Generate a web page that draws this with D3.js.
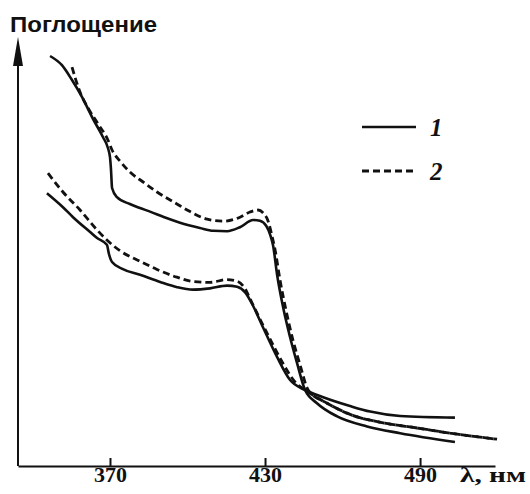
<!DOCTYPE html>
<html>
<head>
<meta charset="utf-8">
<script src="https://cdn.jsdelivr.net/npm/d3@7"></script>
<style>
  body { margin: 0; background: #fff; }
  svg { display: block; }
</style>
</head>
<body>
<svg id="chart" width="530" height="494"></svg>
<script>
'use strict';

// wavelength ticks on the bottom axis
const xTicks = [370, 430, 490];

// curve 1 (solid), upper spectrum: [wavelength nm, absorbance]
const solidUpper = [
  [346.8, 1.025], [351.4, 1.002], [355.0, 0.968], [359.2, 0.922], [363.4, 0.868],
  [367.3, 0.822], [369.2, 0.795], [370.0, 0.772], [370.4, 0.740], [370.8, 0.695],
  [372.7, 0.672], [377.7, 0.655], [381.6, 0.645], [385.5, 0.636], [391.0, 0.622],
  [397.1, 0.608], [404.8, 0.595], [410.0, 0.588], [415.3, 0.587], [420.3, 0.597],
  [425.4, 0.615], [428.0, 0.613], [430.5, 0.600], [432.0, 0.578], [433.1, 0.552],
  [434.7, 0.477], [437.0, 0.397], [439.7, 0.322], [442.4, 0.257], [445.5, 0.190],
  [450.1, 0.157], [457.9, 0.124], [469.5, 0.099], [482.3, 0.082], [503.5, 0.060]
];
// curve 2 (dashed), upper spectrum
const dashUpper = [
  [355.3, 0.997], [358.4, 0.935], [361.5, 0.895], [365.4, 0.855], [369.2, 0.815],
  [370.8, 0.790], [373.9, 0.762], [377.7, 0.735], [382.8, 0.710], [388.2, 0.685],
  [395.9, 0.655], [401.0, 0.636], [407.6, 0.617], [413.7, 0.612], [420.3, 0.622],
  [424.2, 0.635], [427.3, 0.640], [429.2, 0.633], [431.2, 0.612], [432.6, 0.578],
  [433.9, 0.540], [435.8, 0.465], [438.1, 0.390], [440.8, 0.315], [443.6, 0.252],
  [446.7, 0.190], [454.0, 0.157], [462.9, 0.129], [475.7, 0.108], [488.9, 0.095],
  [501.6, 0.082], [519.8, 0.067]
];
// curve 1 (solid), lower spectrum
const solidLower = [
  [345.6, 0.682], [351.8, 0.647], [355.7, 0.622], [362.3, 0.585], [365.0, 0.570],
  [368.8, 0.553], [369.6, 0.530], [370.8, 0.510], [375.0, 0.492], [381.6, 0.478],
  [389.4, 0.460], [396.0, 0.447], [402.1, 0.441], [408.7, 0.444], [415.3, 0.451],
  [419.2, 0.448], [422.3, 0.434], [425.4, 0.400], [429.2, 0.347], [434.7, 0.272],
  [439.7, 0.215], [445.5, 0.190], [452.5, 0.172], [462.9, 0.150], [470.7, 0.136],
  [482.3, 0.125], [503.5, 0.121]
];
// curve 2 (dashed), lower spectrum
const dashLower = [
  [346.0, 0.732], [351.8, 0.685], [358.4, 0.640], [365.0, 0.590], [368.8, 0.565],
  [373.9, 0.538], [381.6, 0.512], [388.0, 0.492], [395.9, 0.472], [402.1, 0.461],
  [408.7, 0.459], [415.3, 0.466], [419.2, 0.462], [422.3, 0.443], [424.2, 0.418],
  [427.3, 0.377], [431.2, 0.327], [436.2, 0.265], [441.6, 0.210], [446.7, 0.185],
  [454.0, 0.157], [462.9, 0.129], [475.7, 0.108], [488.9, 0.095], [501.6, 0.082],
  [519.8, 0.067]
];

const legendItems = [
  { label: '1', dash: null },
  { label: '2', dash: '7,4' },
];

const svg = d3.select('#chart');
const ink = '#111';

const x = d3.scaleLinear().domain([334.4, 519.0]).range([18, 495]);
const y = d3.scaleLinear().domain([0, 1]).range([466, 66]);

// y axis with arrow
svg.append('line')
  .attr('x1', x(334.4)).attr('x2', x(334.4))
  .attr('y1', y(0)).attr('y2', y(1.02))
  .attr('stroke', ink).attr('stroke-width', 2);
svg.append('path')
  .attr('d', `M${x(334.4)},${y(1.0725)} L${x(334.4) - 5},${y(1.0)} L${x(334.4) + 5},${y(1.0)} Z`)
  .attr('fill', ink);

// x axis
const xAxis = svg.append('g')
  .attr('transform', `translate(0,${y(0)})`)
  .call(d3.axisBottom(x).tickValues(xTicks).tickSize(0).tickSizeOuter(0));
xAxis.select('.domain').attr('stroke', ink).attr('stroke-width', 2.2);
xAxis.selectAll('.tick text')
  .attr('y', 16)
  .attr('dy', 0)
  .attr('fill', ink)
  .attr('font-family', '"Liberation Serif", serif')
  .attr('font-weight', 'bold')
  .attr('font-size', 22);
// ticks point up into the plot
xAxis.selectAll('.tick').append('line')
  .attr('y1', 0).attr('y2', -8)
  .attr('stroke', ink).attr('stroke-width', 2);

svg.append('text')
  .attr('x', 460).attr('y', 482)
  .attr('fill', ink)
  .attr('font-family', '"Liberation Serif", serif')
  .attr('font-weight', 'bold')
  .attr('font-size', 22)
  .attr('textLength', 66)
  .attr('lengthAdjust', 'spacingAndGlyphs')
  .text('λ, нм');

svg.append('text')
  .attr('x', 10).attr('y', 32)
  .attr('fill', ink)
  .attr('font-family', '"Liberation Sans", Arial, sans-serif')
  .attr('font-weight', 'bold')
  .attr('font-size', 22)
  .attr('textLength', 147)
  .attr('lengthAdjust', 'spacingAndGlyphs')
  .text('Поглощение');

const line = d3.line()
  .x(d => x(d[0]))
  .y(d => y(d[1]))
  .curve(d3.curveMonotoneX);

[[dashUpper, '7,4'], [dashLower, '7,4'], [solidUpper, null], [solidLower, null]].forEach(([data, dash]) => {
  svg.append('path')
    .datum(data)
    .attr('d', line)
    .attr('fill', 'none')
    .attr('stroke', ink)
    .attr('stroke-width', dash ? 2.8 : 2.6)
    .attr('stroke-dasharray', dash);
});

// legend
legendItems.forEach((d, i) => {
  const ly = 127 + i * 44;
  svg.append('line')
    .attr('x1', 362).attr('x2', 416)
    .attr('y1', ly).attr('y2', ly)
    .attr('stroke', ink)
    .attr('stroke-width', d.dash ? 2.8 : 2.6)
    .attr('stroke-dasharray', d.dash);
  svg.append('text')
    .attr('x', 430).attr('y', ly + 9)
    .attr('fill', ink)
    .attr('font-family', '"Liberation Serif", serif')
    .attr('font-style', 'italic')
    .attr('font-weight', 'bold')
    .attr('font-size', 25)
    .text(d.label);
});
</script>
</body>
</html>
